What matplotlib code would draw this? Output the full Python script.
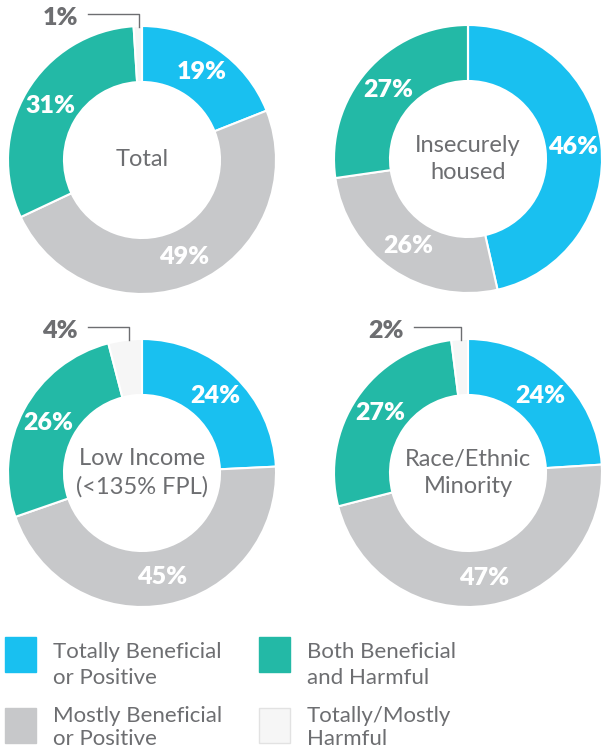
import numpy as np
import matplotlib.pyplot as plt
from matplotlib.patches import Rectangle

# data
groups = ['Total', 'Insecurely\nhoused', 'Low Income\n(<135% FPL)', 'Race/Ethnic\nMinority']
totally_beneficial = [19, 46, 24, 24]
mostly_beneficial = [49, 26, 45, 47]
both_beneficial_harmful = [31, 27, 26, 27]
totally_mostly_harmful = [1, 0, 4, 2]

legend_labels = ['Totally Beneficial\nor Positive', 'Both Beneficial\nand Harmful',
                 'Mostly Beneficial\nor Positive', 'Totally/Mostly\nHarmful']

BLUE = '#19c0f0'
GREEN = '#23b9a6'
GREY = '#c7c8ca'
WHITE_SLICE = '#f6f6f6'
TEXT = '#6d6e71'
colors = [BLUE, GREY, GREEN, WHITE_SLICE]

W, H = 603, 752
plt.rcParams['font.family'] = ['Lato', 'DejaVu Sans']

fig = plt.figure(figsize=(W / 100, H / 100), dpi=100)
ax = fig.add_axes([0, 0, 1, 1])


def Y(y):
    # pixel rows from the top -> data y
    return H - y


centers = [(142, 160), (468, 159), (142, 473), (468, 473)]
R = 134
inner = 78
lab_r = (R + inner) / 2

for i, (cx, cy) in enumerate(centers):
    vals = [totally_beneficial[i], mostly_beneficial[i],
            both_beneficial_harmful[i], totally_mostly_harmful[i]]
    total = sum(vals)
    ax.pie(vals, colors=colors, radius=R, center=(cx, Y(cy)), startangle=90,
           counterclock=False,
           wedgeprops=dict(width=R - inner, edgecolor='white', linewidth=1.5))

    # percent labels inside the ring
    cum = 0
    for k, v in enumerate(vals):
        mid = (cum + v / 2) / total * 2 * np.pi
        cum += v
        if k == 3:
            continue
        ax.text(cx + lab_r * np.sin(mid), Y(cy) + lab_r * np.cos(mid), f'{v}%',
                ha='center', va='center', color='white', fontsize=18,
                fontweight='heavy')

    # small harmful slice gets an outside label with a leader line
    h = totally_mostly_harmful[i]
    if h > 0:
        lx = cx - lab_r * np.sin(np.pi * h / total)
        ax.plot([cx - 54, lx, lx], [Y(cy - 146), Y(cy - 146), Y(cy - R + 1)],
                color=TEXT, lw=1, clip_on=False)
        ax.text(cx - 64, Y(cy - 142), f'{h}%', ha='right', va='center',
                color=TEXT, fontsize=18, fontweight='heavy')

    ax.text(cx, Y(cy), groups[i], ha='center', va='center', color=TEXT,
            fontsize=17, linespacing=1.4)

# legend: square + two text lines placed on their baselines
leg_pos = [(5, 637), (259, 637), (5, 708), (259, 708)]
leg_baselines = [(658, 684), (658, 684), (722, 745), (722, 745)]
leg_colors = [BLUE, GREEN, GREY, WHITE_SLICE]
for (x, y), bl, c, lab in zip(leg_pos, leg_baselines, leg_colors, legend_labels):
    ec = '#e2e2e2' if c == WHITE_SLICE else c
    ax.add_patch(Rectangle((x, Y(y + 35)), 31, 35, facecolor=c, edgecolor=ec, lw=1))
    for line, b in zip(lab.split('\n'), bl):
        ax.text(x + 48, Y(b), line, ha='left', va='baseline',
                color=TEXT, fontsize=16)

ax.set_xlim(0, W)
ax.set_ylim(0, H)
ax.set_aspect('auto')
ax.axis('off')

fig.savefig('out.png', dpi=100)
